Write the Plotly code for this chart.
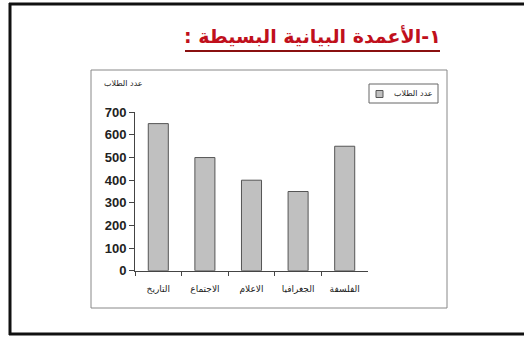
import plotly.graph_objects as go

categories = ["التاريخ", "الاجتماع", "الاعلام", "الجغرافيا", "الفلسفة"]
values = [650, 500, 400, 350, 550]
series_name = "عدد الطلاب"
y_ticks = [0, 100, 200, 300, 400, 500, 600, 700]
title_text = "١-الأعمدة البيانية البسيطة :"

RLM = "\u200F"
W, H = 524, 338
def px(x):
    return x / W
def py(y):
    return 1 - y / H

bar_fill = "#c0c0c0"
bar_line = "#555555"
frame = dict(color="#111111", width=3)

fig = go.Figure()
fig.add_trace(go.Bar(
    x=categories, y=values, name=series_name,
    marker=dict(color=bar_fill, line=dict(color=bar_line, width=1)),
    showlegend=False,
))

fig.update_layout(
    template="none",
    autosize=False,
    width=W, height=H,
    margin=dict(l=0, r=0, t=0, b=0, pad=0),
    paper_bgcolor="white", plot_bgcolor="white",
    bargap=0.57,
    xaxis=dict(
        domain=[px(135), px(368)], automargin=False,
        showline=True, linecolor="#444444", linewidth=1,
        ticks="outside", tickson="boundaries", ticklen=4, tickcolor="#444444",
        ticklabelstandoff=9,
        tickfont=dict(family="DejaVu Sans", size=9, color="#222222"),
        showgrid=False, zeroline=False,
    ),
    yaxis=dict(
        domain=[py(270.7), py(112.3)], automargin=False,
        range=[0, 700], tickvals=y_ticks,
        showline=True, linecolor="#444444", linewidth=1,
        ticks="outside", ticklen=5, tickcolor="#444444",
        tickfont=dict(family="Liberation Sans", size=13, color="#222222", weight="bold"),
        showgrid=False, zeroline=False,
    ),
    shapes=[
        # outer frame (top, left, bottom; right side lies outside the view)
        dict(type="line", xref="paper", yref="paper",
             x0=px(9), y0=py(4), x1=1, y1=py(4), line=frame),
        dict(type="line", xref="paper", yref="paper",
             x0=px(10), y0=py(3), x1=px(10), y1=py(335), line=frame),
        dict(type="line", xref="paper", yref="paper",
             x0=px(9), y0=py(334), x1=1, y1=py(334), line=frame),
        # chart box
        dict(type="rect", xref="paper", yref="paper",
             x0=px(91), y0=py(70), x1=px(447), y1=py(308),
             line=dict(color="#888888", width=1)),
        # title underline
        dict(type="line", xref="paper", yref="paper",
             x0=px(185), y0=py(51), x1=px(440), y1=py(51),
             line=dict(color="#8a1010", width=2)),
        # legend box
        dict(type="rect", xref="paper", yref="paper",
             x0=px(369), y0=py(84), x1=px(438), y1=py(103),
             line=dict(color="#666666", width=1), fillcolor="white"),
        # legend swatch
        dict(type="rect", xref="paper", yref="paper",
             x0=px(376), y0=py(90.5), x1=px(383), y1=py(97.5),
             line=dict(color=bar_line, width=1), fillcolor=bar_fill),
    ],
    annotations=[
        dict(text=RLM + title_text + RLM, xref="paper", yref="paper",
             x=px(312), y=py(36), xanchor="center", yanchor="middle",
             showarrow=False,
             font=dict(family="DejaVu Sans", size=19, color="#c0101c", weight="bold")),
        dict(text=series_name, xref="paper", yref="paper",
             x=px(123), y=py(84), xanchor="center", yanchor="middle",
             showarrow=False,
             font=dict(family="DejaVu Sans", size=8, color="#222222")),
        dict(text=series_name, xref="paper", yref="paper",
             x=px(435), y=py(93.5), xanchor="right", yanchor="middle",
             showarrow=False,
             font=dict(family="DejaVu Sans", size=8, color="#222222")),
    ],
)

fig.write_html("out.html")
